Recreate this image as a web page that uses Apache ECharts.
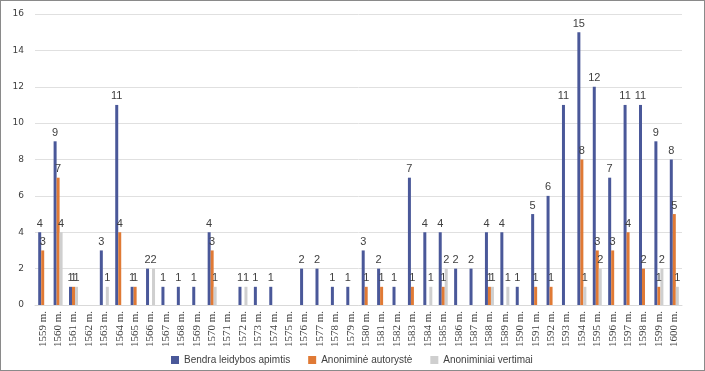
<!DOCTYPE html>
<html><head><meta charset="utf-8">
<script src="https://cdn.jsdelivr.net/npm/echarts@6/dist/echarts.min.js"></script>
<style>
html,body{margin:0;padding:0;background:#fff;}
#c{position:absolute;left:0;top:0;width:703px;height:369px;border:1px solid #8a8a8a;}
</style></head><body><div id="c"></div>
<script>
const years = [];
for (let y = 1559; y <= 1600; y++) years.push(y + ' m.');
const bendra = [4,9,1,null,3,11,1,2,1,1,1,4,null,1,1,1,null,2,2,1,1,3,2,1,7,4,4,2,2,4,4,1,5,6,11,15,12,7,11,11,9,8];
const autoryste = [3,7,1,null,null,4,1,null,null,null,null,3,null,null,null,null,null,null,null,null,null,1,1,null,1,null,1,null,null,1,null,null,1,1,null,8,3,3,4,2,1,5];
const vertimai = [null,4,1,null,1,null,null,2,null,null,null,1,null,1,null,null,null,null,null,null,null,null,null,null,null,1,2,null,null,1,1,null,null,null,null,1,2,null,null,null,2,1];
const seriesNames = ['Bendra leidybos apimtis','Anoniminė autorystė','Anoniminiai vertimai'];
const colors = ['#4a5899','#e07a35','#cfcfcf'];
const chart = echarts.init(document.getElementById('c'));
const lbl = {show:true, position:'top', color:'#404040', fontSize:11, distance:3, fontFamily:'Liberation Sans'};
chart.setOption({
  animation:false,
  textStyle:{fontFamily:'Liberation Sans'},
  grid:{left:34, right:22, top:13, bottom:65},
  legend:{top:349, left:165, itemWidth:8, itemHeight:8, itemGap:18, icon:'rect',
    textStyle:{fontSize:10, color:'#404040', fontFamily:'Liberation Sans'}, data:seriesNames},
  xAxis:{type:'category', data:years,
    axisLine:{lineStyle:{color:'#d9d9d9'}}, axisTick:{show:false},
    axisLabel:{rotate:90, interval:0, fontSize:11, color:'#404040', margin:6, fontFamily:'Liberation Sans Narrow'}},
  yAxis:{type:'value', min:0, max:16, interval:2,
    axisLine:{show:false}, axisTick:{show:false},
    axisLabel:{fontSize:9, color:'#404040', margin:11, fontFamily:'DejaVu Sans'},
    splitLine:{lineStyle:{color:'#e0e0e0'}}},
  series:[
    {name:seriesNames[0], type:'bar', data:bendra, itemStyle:{color:colors[0]}, barWidth:3, barGap:'0%', label:lbl},
    {name:seriesNames[1], type:'bar', data:autoryste, itemStyle:{color:colors[1]}, barWidth:3, barGap:'0%', label:lbl},
    {name:seriesNames[2], type:'bar', data:vertimai, itemStyle:{color:colors[2]}, barWidth:3, barGap:'0%', label:lbl}
  ]
});
</script></body></html>
